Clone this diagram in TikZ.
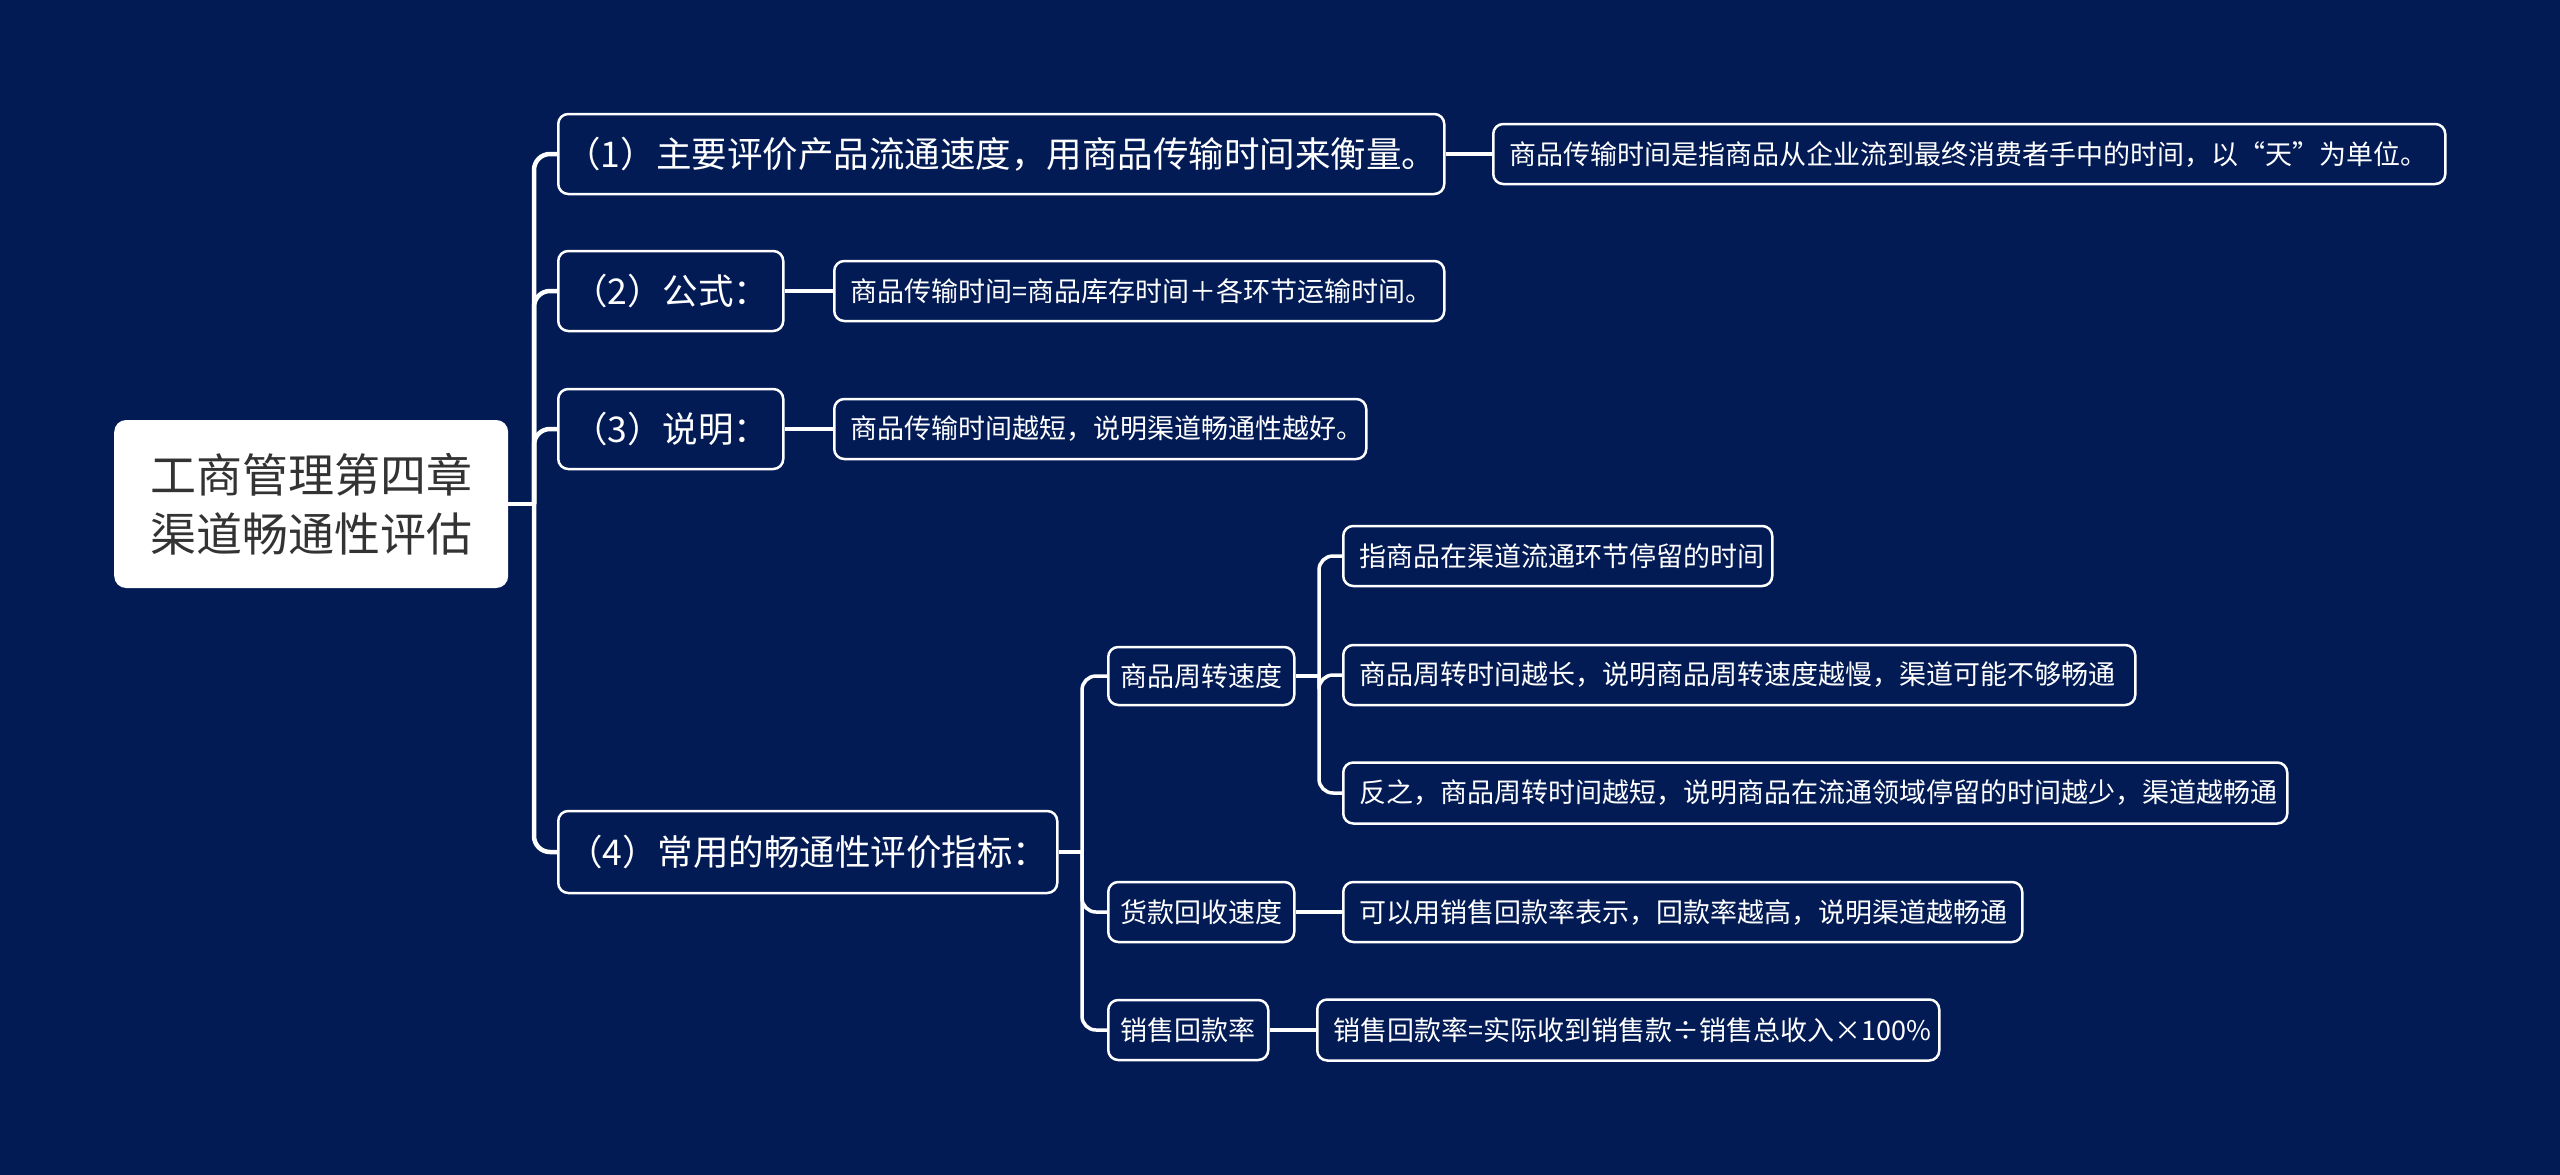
\documentclass[tikz,border=0pt]{standalone}
\usepackage{fontspec}
\setmainfont{Noto Sans CJK SC}
\definecolor{bg}{HTML}{021B55}
\definecolor{roottext}{HTML}{333333}
\begin{document}
\begin{tikzpicture}[x=1pt,y=-1pt,
  box/.style={draw=white, fill=bg, line width=2.5pt, rounded corners=10pt, text=white, inner sep=0pt, align=center, anchor=west},
  branch/.style={box, font=\fontsize{35.5}{42}\selectfont, minimum height=80pt},
  leaf/.style={box, font=\fontsize{27}{32}\selectfont, minimum height=60pt},
  leafl/.style={leaf, align=left, inner xsep=16pt, text width=#1},
  rootbox/.style={fill=white, rounded corners=12pt, text=roottext, inner sep=0pt, align=center, anchor=west, font=\fontsize{46}{59}\selectfont, minimum width=394pt, minimum height=168pt},
  conn/.style={draw=white, line width=4.5pt, rounded corners=16pt},
  subconn/.style={draw=white, line width=3.5pt, rounded corners=14pt},
]
\fill[bg] (0,0) rectangle (2560,1175);
\useasboundingbox (0,0) rectangle (2560,1175);

\node[rootbox] (root) at (114,504) {工商管理第四章\\渠道畅通性评估};

\node[branch, minimum width=886pt] (b1) at (557,154) {（1）主要评价产品流通速度，用商品传输时间来衡量。};
\node[leafl=920pt] (l1) at (1492,154) {商品传输时间是指商品从企业流到最终消费者手中的时间，以“天”为单位。};

\node[branch, minimum width=225pt] (b2) at (557,291) {（2）公式：};
\node[leafl=578pt] (l2) at (833,291) {商品传输时间=商品库存时间＋各环节运输时间。};

\node[branch, minimum width=225pt] (b3) at (557,429) {（3）说明：};
\node[leafl=500pt] (l3) at (833,429) {商品传输时间越短，说明渠道畅通性越好。};

\node[branch, minimum width=499pt, minimum height=82pt] (b4) at (557,852) {（4）常用的畅通性评价指标：};

\node[leaf, minimum width=186pt, minimum height=58pt] (s1) at (1107,676) {商品周转速度};
\node[leaf, minimum width=186pt] (s2) at (1107,912) {货款回收速度};
\node[leaf, minimum width=160pt] (s3) at (1107,1030) {销售回款率};

\node[leafl=397pt] (la) at (1342,556) {指商品在渠道流通环节停留的时间};
\node[leafl=760pt] (lb) at (1342,675) {商品周转时间越长，说明商品周转速度越慢，渠道可能不够畅通};
\node[leafl=912pt, minimum height=61pt] (lc) at (1342,793) {反之，商品周转时间越短，说明商品在流通领域停留的时间越少，渠道越畅通};
\node[leafl=647pt] (ld) at (1342,912) {可以用销售回款率表示，回款率越高，说明渠道越畅通};
\node[leafl=590pt, minimum height=61pt] (le) at (1316,1030) {销售回款率=实际收到销售款÷销售总收入×100\%};

\coordinate (j0) at (534,504);
\draw[conn] (root.east) -- (j0);
\foreach \n in {b1,b2,b3,b4} \draw[conn] (j0) |- (\n.west);

\draw[subconn] (b1.east) -- (l1.west);
\draw[subconn] (b2.east) -- (l2.west);
\draw[subconn] (b3.east) -- (l3.west);

\coordinate (j1) at (1082,852);
\draw[subconn] (b4.east) -- (j1);
\foreach \n in {s1,s2,s3} \draw[subconn] (j1) |- (\n.west);

\coordinate (j2) at (1319,676);
\draw[subconn] (s1.east) -- (j2);
\foreach \n in {la,lb,lc} \draw[subconn] (j2) |- (\n.west);

\draw[subconn] (s2.east) -- (ld.west);
\draw[subconn] (s3.east) -- (le.west);
\end{tikzpicture}
\end{document}
